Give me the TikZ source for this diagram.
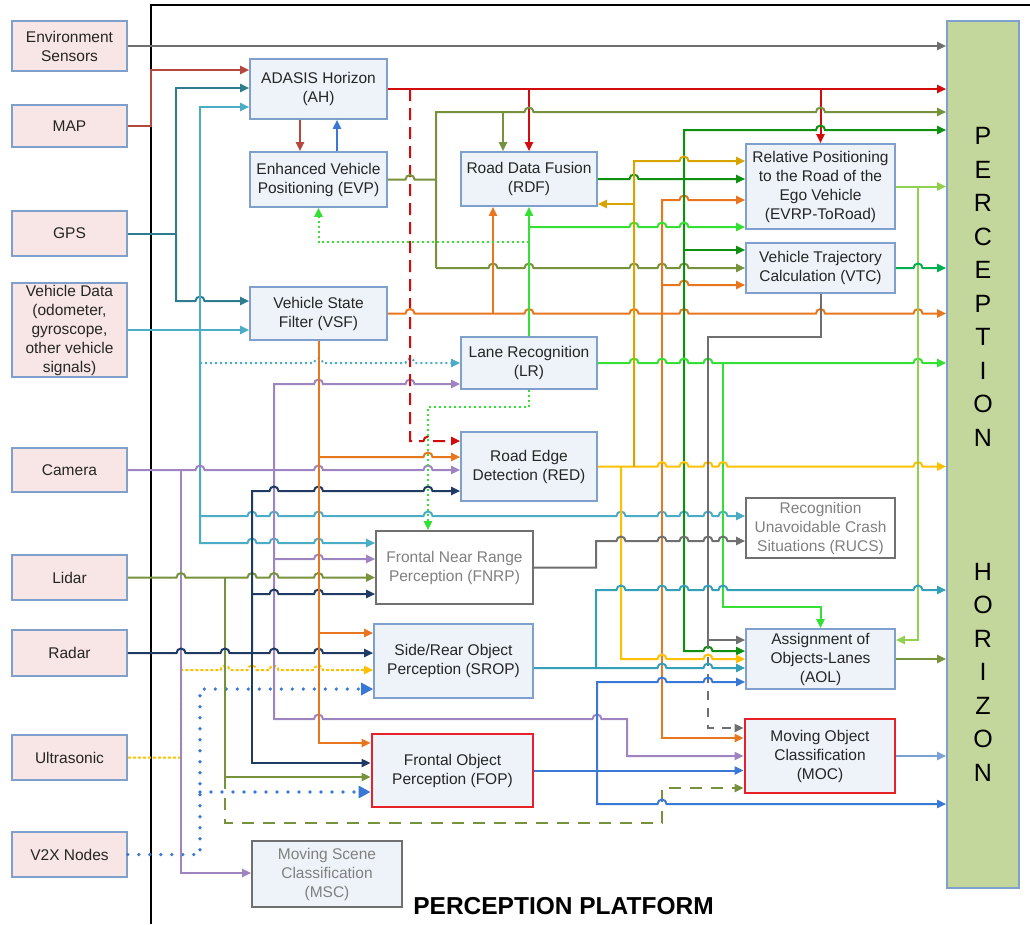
\documentclass[tikz,border=0pt]{standalone}
\usepackage{fontspec}
\setmainfont{Liberation Sans}
\usetikzlibrary{arrows.meta}
\definecolor{boxfill}{HTML}{EEF2F9}
\definecolor{srcfill}{HTML}{F8E5E5}
\definecolor{boxline}{HTML}{7F9FCC}
\definecolor{horfill}{HTML}{C3D69B}
\definecolor{rline}{HTML}{E8202A}
\definecolor{gline}{HTML}{707070}
\definecolor{gtxt}{HTML}{808080}
\definecolor{txt}{HTML}{262626}
\definecolor{cEnv}{HTML}{6F6F6F}
\definecolor{cMap}{HTML}{B5473F}
\definecolor{cGps}{HTML}{2E7D8F}
\definecolor{cVeh}{HTML}{4BACC6}
\definecolor{cAh}{HTML}{D40B0B}
\definecolor{cOlv}{HTML}{76923C}
\definecolor{cDkg}{HTML}{109010}
\definecolor{cGold}{HTML}{D9A300}
\definecolor{cOra}{HTML}{E8761E}
\definecolor{cGrn}{HTML}{33E033}
\definecolor{cLgr}{HTML}{92D050}
\definecolor{cVtc}{HTML}{00B050}
\definecolor{cYel}{HTML}{FFC000}
\definecolor{cPur}{HTML}{9E85C2}
\definecolor{cNav}{HTML}{1F3B63}
\definecolor{cBlu}{HTML}{3A78D6}
\definecolor{cTeal}{HTML}{32A0B8}
\definecolor{cMoc}{HTML}{7EA1D3}
\definecolor{cGry}{HTML}{6F6F6F}
\begin{document}
\begin{tikzpicture}[x=1pt,y=-1pt,line width=2pt,>={Triangle[length=9pt,width=8pt]},
 box/.style={draw=boxline,fill=boxfill,line width=1.6pt,text=txt,align=center,inner sep=0pt,font=\fontsize{15.5}{19}\selectfont},
 src/.style={box,fill=srcfill,minimum width=115pt},
 gbox/.style={box,draw=gline,text=gtxt},
 rbox/.style={box,draw=rline,line width=2.8pt},
 reddash/.style={dash pattern=on 12pt off 7pt},
 longdash/.style={dash pattern=on 12pt off 9pt},
 gdash/.style={dash pattern=on 9pt off 8pt},
 fdots/.style={dash pattern=on 2pt off 3pt},
 ydots/.style={dash pattern=on 3pt off 2pt},
 bigdots/.style={line width=3.6pt,dash pattern=on 0pt off 11pt,line cap=round,-{Triangle[length=12pt,width=12pt]}}]
 \useasboundingbox (0,0) rectangle (1030,924);
 \draw[line width=1.8pt] (1030,5) -- (151,5) -- (151,924);
 \node[src,minimum height=50pt] (env) at (69.5,46) {Environment\\Sensors};
 \node[src,minimum height=42pt] (map) at (69.5,126) {MAP};
 \node[src,minimum height=45pt] (gps) at (69.5,233.5) {GPS};
 \node[src,minimum height=94pt] (vdat) at (69.5,330) {Vehicle Data\\(odometer,\\gyroscope,\\other vehicle\\signals)};
 \node[src,minimum height=44pt] (cam) at (69.5,470) {Camera};
 \node[src,minimum height=45pt] (lidar) at (69.5,577.5) {Lidar};
 \node[src,minimum height=46pt] (radar) at (69.5,653) {Radar};
 \node[src,minimum height=45pt] (ultra) at (69.5,757.5) {Ultrasonic};
 \node[src,minimum height=45pt] (vtx) at (69.5,854.5) {V2X Nodes};
 \node[box,minimum width=137pt,minimum height=60pt] (ah) at (318.5,89) {ADASIS Horizon\\(AH)};
 \node[box,minimum width=137pt,minimum height=55pt] (evp) at (318.5,179.5) {Enhanced Vehicle\\Positioning (EVP)};
 \node[box,minimum width=137pt,minimum height=53pt] (vsf) at (318.5,313.5) {Vehicle State\\Filter (VSF)};
 \node[box,minimum width=136pt,minimum height=54pt] (rdf) at (529,179) {Road Data Fusion\\(RDF)};
 \node[box,minimum width=136pt,minimum height=52pt] (lr) at (529,363) {Lane Recognition\\(LR)};
 \node[box,minimum width=136pt,minimum height=69pt] (red) at (529,466.5) {Road Edge\\Detection (RED)};
 \node[gbox,fill=white,minimum width=157pt,minimum height=73pt] (fnrp) at (454.5,567.5) {Frontal Near Range\\Perception (FNRP)};
 \node[box,minimum width=159pt,minimum height=74pt] (srop) at (453.5,661) {Side/Rear Object\\Perception (SROP)};
 \node[rbox,minimum width=161pt,minimum height=73pt] (fop) at (452.5,770.5) {Frontal Object\\Perception (FOP)};
 \node[gbox,minimum width=150pt,minimum height=66pt] (msc) at (327,874) {Moving Scene\\Classification\\(MSC)};
 \node[box,minimum width=149pt,minimum height=85pt] (evrp) at (820.5,186.5) {Relative Positioning\\to the Road of the\\Ego Vehicle\\(EVRP-ToRoad)};
 \node[box,minimum width=149pt,minimum height=50pt] (vtc) at (820.5,268) {Vehicle Trajectory\\Calculation (VTC)};
 \node[gbox,fill=white,minimum width=149pt,minimum height=60pt] (rucs) at (820.5,528) {Recognition\\Unavoidable Crash\\Situations (RUCS)};
 \node[box,minimum width=149pt,minimum height=60pt] (aol) at (820.5,659) {Assignment of\\Objects-Lanes\\(AOL)};
 \node[rbox,minimum width=150pt,minimum height=74pt] (moc) at (820,756) {Moving Object\\Classification\\(MOC)};
 \node[box,fill=horfill,text=black,minimum width=72pt,minimum height=867pt,font=\fontsize{25}{33.5}\selectfont] (hor) at (983,454.5) {P\\E\\R\\C\\E\\P\\T\\I\\O\\N\\[100.5pt]H\\O\\R\\I\\Z\\O\\N};
 \node[font=\bfseries\fontsize{24.5}{28}\selectfont,anchor=base] (plat) at (563.5,914) {PERCEPTION PLATFORM};
 % sensors
 \draw[cEnv,->] (env.east) -- (env.east-|hor.west);
 \draw[cMap,->] (map.east) -- (151,126) -- (151,70) -- (ah.west|-0,70);
 \draw[cGps,->] (gps.east) -- (176,233.5) -- (176,88) -- (ah.west|-0,88);
 \draw[cGps,->] (176,233.5) -- (176,301) \foreach \h in {200}{-- (\h-4.5,301) arc[start angle=180,end angle=0,radius=4.5pt]} -- (vsf.west|-0,301);
 \draw[cVeh,->] (vdat.east) -- (vsf.west|-0,330);
 \draw[cVeh,->] (200,330) -- (200,107) -- (ah.west|-0,107);
 \draw[cVeh,->] (200,330) -- (200,543) \foreach \h in {252,274,318.5}{-- (\h-4.5,543) arc[start angle=180,end angle=0,radius=4.5pt]} -- (fnrp.west|-0,543);
 \draw[cVeh,->] (200,516) \foreach \h in {252,274,318.5,428,621,662,684,708,723}{-- (\h-4.5,516) arc[start angle=180,end angle=0,radius=4.5pt]} -- (rucs.west|-0,516);
 \draw[cVeh,fdots,->] (200,363) \foreach \h in {318.5,410}{-- (\h-4.5,363) arc[start angle=180,end angle=0,radius=4.5pt]} -- (lr.west|-0,363);
 \draw[cYel,ydots,->] (ultra.east) -- (181,757.5) -- (181,670) \foreach \h in {225,252,274,318.5}{-- (\h-4.5,670) arc[start angle=180,end angle=0,radius=4.5pt]} -- (srop.west|-0,670);
 \draw[cBlu,bigdots] (vtx.east) -- (200,854.5) -- (200,689) -- (srop.west|-0,689);
 \draw[cBlu,bigdots] (200,792) -- (fop.west|-0,792);
 \draw[cPur,->] (cam.east) \foreach \h in {200,318.5,428}{-- (\h-4.5,470) arc[start angle=180,end angle=0,radius=4.5pt]} -- (cam.east-|red.west);
 \draw[cPur,->] (181,470) -- (181,873) -- (msc.west|-0,873);
 \draw[cPur,->] (274,470) -- (274,384) \foreach \h in {318.5,410}{-- (\h-4.5,384) arc[start angle=180,end angle=0,radius=4.5pt]} -- (lr.west|-0,384);
 \draw[cPur,->] (274,559) \foreach \h in {318.5}{-- (\h-4.5,559) arc[start angle=180,end angle=0,radius=4.5pt]} -- (fnrp.west|-0,559);
 \draw[cPur,->] (274,470) -- (274,719) \foreach \h in {318.5,597}{-- (\h-4.5,719) arc[start angle=180,end angle=0,radius=4.5pt]} -- (627,719) -- (627,756) -- (moc.west|-0,756);
 \draw[cOlv,->] (lidar.east) \foreach \h in {181,252,274,318.5}{-- (\h-4.5,577.5) arc[start angle=180,end angle=0,radius=4.5pt]} -- (lidar.east-|fnrp.west);
 \draw[cOlv,->] (225,577.5) -- (225,777) -- (fop.west|-0,777);
 \draw[cOlv,longdash,->] (225,777) -- (225,823) -- (662,823) -- (662,788) -- (moc.west|-0,788);
 \draw[cNav,->] (radar.east) \foreach \h in {181,225,274,318.5}{-- (\h-4.5,653) arc[start angle=180,end angle=0,radius=4.5pt]} -- (radar.east-|srop.west);
 \draw[cNav,->] (252,653) -- (252,491) \foreach \h in {274,318.5,428}{-- (\h-4.5,491) arc[start angle=180,end angle=0,radius=4.5pt]} -- (red.west|-0,491);
 \draw[cNav,->] (252,594) \foreach \h in {274,318.5}{-- (\h-4.5,594) arc[start angle=180,end angle=0,radius=4.5pt]} -- (fnrp.west|-0,594);
 \draw[cNav,->] (252,653) -- (252,763) -- (fop.west|-0,763);
 % AH, EVP, VSF
 \draw[cMap,->] (ah.south-|300,0) -- (evp.north-|300,0);
 \draw[cBlu,->] (evp.north-|337,0) -- (ah.south-|337,0);
 \draw[cAh,->] (ah.east) -- (ah.east-|hor.west);
 \draw[cAh,->] (529,89) -- (rdf.north);
 \draw[cAh,->] (820.5,89) -- (evrp.north);
 \draw[cAh,reddash,->] (410,89) -- (410,441) \foreach \h in {428}{-- (\h-4.5,441) arc[start angle=180,end angle=0,radius=4.5pt]} -- (red.west|-0,441);
 \draw[cOlv] (evp.east) \foreach \h in {410}{-- (\h-4.5,179.5) arc[start angle=180,end angle=0,radius=4.5pt]} -- (436,179.5);
 \draw[cOlv,->] (436,268) -- (436,112) \foreach \h in {529,820.5}{-- (\h-4.5,112) arc[start angle=180,end angle=0,radius=4.5pt]} -- (hor.west|-0,112);
 \draw[cOlv,->] (503,112) -- (rdf.north-|503,0);
 \draw[cOlv,->] (436,268) \foreach \h in {493,529,634,662,684}{-- (\h-4.5,268) arc[start angle=180,end angle=0,radius=4.5pt]} -- (vtc.west|-0,268);
 \draw[cOra,->] (vsf.east) \foreach \h in {410,529,634,684,820.5,918}{-- (\h-4.5,313.5) arc[start angle=180,end angle=0,radius=4.5pt]} -- (vsf.east-|hor.west);
 \draw[cOra,->] (493,313.5) -- (rdf.south-|493,0);
 \draw[cOra,->] (662,313.5) -- (662,200) \foreach \h in {684}{-- (\h-4.5,200) arc[start angle=180,end angle=0,radius=4.5pt]} -- (evrp.west|-0,200);
 \draw[cOra,->] (662,285) \foreach \h in {684}{-- (\h-4.5,285) arc[start angle=180,end angle=0,radius=4.5pt]} -- (vtc.west|-0,285);
 \draw[cOra,->] (662,313.5) -- (662,738) -- (moc.west|-0,738);
 \draw[cOra,->] (vsf.south) -- (318.5,743) -- (fop.west|-0,743);
 \draw[cOra,->] (318.5,457) \foreach \h in {428}{-- (\h-4.5,457) arc[start angle=180,end angle=0,radius=4.5pt]} -- (red.west|-0,457);
 \draw[cOra,->] (318.5,633) -- (srop.west|-0,633);
 % RDF, LR, RED
 \draw[cDkg,->] (rdf.east) \foreach \h in {634}{-- (\h-4.5,179) arc[start angle=180,end angle=0,radius=4.5pt]} -- (rdf.east-|evrp.west);
 \draw[cDkg,->] (684,179) -- (684,130) \foreach \h in {820.5}{-- (\h-4.5,130) arc[start angle=180,end angle=0,radius=4.5pt]} -- (hor.west|-0,130);
 \draw[cDkg,->] (684,250) -- (vtc.west|-0,250);
 \draw[cDkg,->] (684,179) -- (684,651) \foreach \h in {708}{-- (\h-4.5,651) arc[start angle=180,end angle=0,radius=4.5pt]} -- (aol.west|-0,651);
 \draw[cGrn,->] (lr.north) -- (rdf.south);
 \draw[cGrn,->] (529,227) \foreach \h in {634,662,684}{-- (\h-4.5,227) arc[start angle=180,end angle=0,radius=4.5pt]} -- (evrp.west|-0,227);
 \draw[cGrn,fdots,->] (529,242) -- (318.5,242) -- (evp.south);
 \draw[cGrn,->] (lr.east) \foreach \h in {634,662,684,708,918}{-- (\h-4.5,363) arc[start angle=180,end angle=0,radius=4.5pt]} -- (lr.east-|hor.west);
 \draw[cGrn,->] (723,363) -- (723,607) -- (820.5,607) -- (aol.north);
 \draw[cGrn,fdots,->] (lr.south) -- (529,407) -- (428,407) -- (fnrp.north-|428,0);
 \draw[cYel,->] (red.east) \foreach \h in {662,684,708,723,918}{-- (\h-4.5,466.5) arc[start angle=180,end angle=0,radius=4.5pt]} -- (red.east-|hor.west);
 \draw[cGold,->] (634,466.5) -- (634,161) \foreach \h in {684}{-- (\h-4.5,161) arc[start angle=180,end angle=0,radius=4.5pt]} -- (evrp.west|-0,161);
 \draw[cGold,->] (634,204) -- (rdf.east|-0,204);
 \draw[cYel,->] (621,466.5) -- (621,659) \foreach \h in {662,708}{-- (\h-4.5,659) arc[start angle=180,end angle=0,radius=4.5pt]} -- (aol.west|-0,659);
 % EVRP, VTC
 \draw[cLgr,->] (evrp.east) -- (evrp.east-|hor.west);
 \draw[cLgr,->] (918,186.5) -- (918,640) -- (aol.east|-0,640);
 \draw[cVtc,->] (vtc.east) \foreach \h in {918}{-- (\h-4.5,268) arc[start angle=180,end angle=0,radius=4.5pt]} -- (vtc.east-|hor.west);
 \draw[cGry,->] (vtc.south) -- (820.5,337) -- (708,337) -- (708,640) -- (aol.west|-0,640);
 \draw[cGry,gdash,->] (708,640) -- (708,728) -- (moc.west|-0,728);
 % FNRP, SROP, FOP
 \draw[cGry,->] (fnrp.east) -- (596,567.5) -- (596,541) \foreach \h in {621,662,684,708,723}{-- (\h-4.5,541) arc[start angle=180,end angle=0,radius=4.5pt]} -- (rucs.west|-0,541);
 \draw[cTeal,->] (srop.east|-0,668) \foreach \h in {662,708}{-- (\h-4.5,668) arc[start angle=180,end angle=0,radius=4.5pt]} -- (aol.west|-0,668);
 \draw[cTeal,->] (596,668) -- (596,590) \foreach \h in {621,662,684,708,723,918}{-- (\h-4.5,590) arc[start angle=180,end angle=0,radius=4.5pt]} -- (hor.west|-0,590);
 \draw[cBlu,->] (fop.east) -- (fop.east-|moc.west);
 \draw[cBlu,->] (597,770.5) -- (597,682) \foreach \h in {662,708}{-- (\h-4.5,682) arc[start angle=180,end angle=0,radius=4.5pt]} -- (aol.west|-0,682);
 \draw[cBlu,->] (597,770.5) -- (597,804) \foreach \h in {662}{-- (\h-4.5,804) arc[start angle=180,end angle=0,radius=4.5pt]} -- (hor.west|-0,804);
 \draw[cOlv,->] (aol.east) -- (aol.east-|hor.west);
 \draw[cMoc,->] (moc.east) -- (moc.east-|hor.west);
\end{tikzpicture}
\end{document}
